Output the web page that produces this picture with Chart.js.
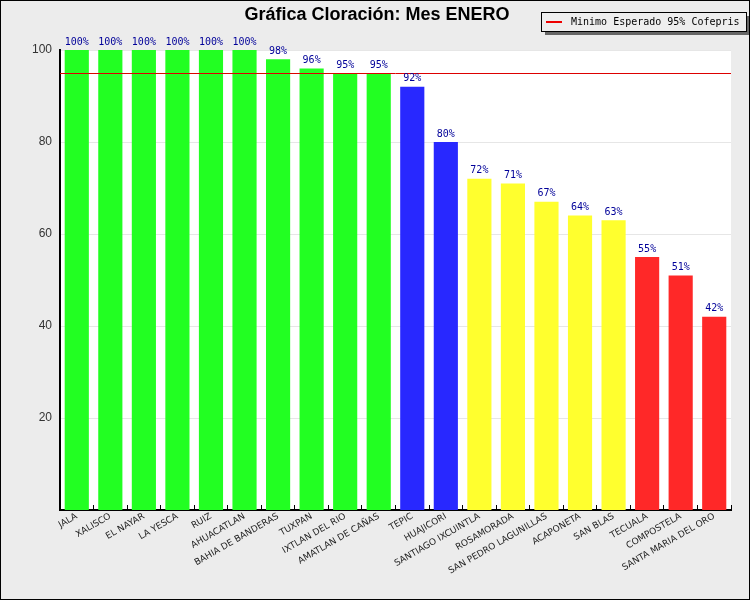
<!DOCTYPE html>
<html>
<head>
<meta charset="utf-8">
<script src="https://cdn.jsdelivr.net/npm/chart.js@4/dist/chart.umd.min.js"></script>
<style>
  body { margin: 0; background: #ececec; }
  canvas { display: block; }
</style>
</head>
<body>
<canvas id="grafica" width="750" height="600"></canvas>
<script>
const municipios = ['JALA', 'XALISCO', 'EL NAYAR', 'LA YESCA', 'RUIZ', 'AHUACATLAN', 'BAHIA DE BANDERAS',
  'TUXPAN', 'IXTLAN DEL RIO', 'AMATLAN DE CAÑAS', 'TEPIC', 'HUAJICORI', 'SANTIAGO IXCUINTLA', 'ROSAMORADA',
  'SAN PEDRO LAGUNILLAS', 'ACAPONETA', 'SAN BLAS', 'TECUALA', 'COMPOSTELA', 'SANTA MARIA DEL ORO'];
const cloracion = [100, 100, 100, 100, 100, 100, 98, 96, 95, 95, 92, 80, 72, 71, 67, 64, 63, 55, 51, 42];
const yTicks = [20, 40, 60, 80, 100];
const minimoEsperado = 95;
const tituloGrafica = 'Gráfica Cloración: Mes ENERO';
const leyenda = 'Minimo Esperado 95% Cofepris';

// color segun el rango de cloracion
const colorBarra = v => v >= 95 ? '#22ff22' : v >= 80 ? '#2828ff' : v >= 60 ? '#ffff2e' : '#ff2828';

const extras = {
  id: 'extras',
  beforeDraw(chart) {
    const { ctx, chartArea: a } = chart;
    ctx.save();
    ctx.fillStyle = '#ececec';
    ctx.fillRect(0, 0, chart.width, chart.height);
    ctx.fillStyle = '#ffffff';
    ctx.fillRect(a.left, a.top, a.right - a.left, a.bottom - a.top);
    ctx.restore();
  },
  afterDatasetsDraw(chart) {
    const { ctx, chartArea: a, scales } = chart;
    ctx.save();
    // linea del minimo esperado
    const y95 = Math.round(scales.y.getPixelForValue(minimoEsperado)) + 0.5;
    ctx.strokeStyle = '#dd0000';
    ctx.lineWidth = 1;
    ctx.beginPath();
    ctx.moveTo(a.left, y95);
    ctx.lineTo(a.right, y95);
    ctx.stroke();

    // etiquetas de valor
    ctx.font = '10px "DejaVu Sans Mono", monospace';
    ctx.fillStyle = '#000099';
    ctx.textAlign = 'center';
    ctx.textBaseline = 'bottom';
    chart.getDatasetMeta(0).data.forEach((bar, i) => {
      ctx.fillText(cloracion[i] + '%', bar.x, bar.y - 3);
    });

    // titulo
    ctx.font = 'bold 18px "Liberation Sans", Arial, sans-serif';
    ctx.fillStyle = '#000';
    ctx.textBaseline = 'middle';
    ctx.fillText(tituloGrafica, 377, 15);

    // leyenda
    const lx = 541, ly = 12, lw = 205, lh = 19;
    ctx.fillStyle = '#666';
    ctx.fillRect(lx + 4, ly + 4, lw, lh);
    ctx.fillStyle = '#eeeeee';
    ctx.fillRect(lx, ly, lw, lh);
    ctx.strokeStyle = '#000';
    ctx.strokeRect(lx + 0.5, ly + 0.5, lw, lh);
    ctx.strokeStyle = '#ee0000';
    ctx.lineWidth = 2;
    ctx.beginPath();
    ctx.moveTo(lx + 5, ly + 10);
    ctx.lineTo(lx + 21, ly + 10);
    ctx.stroke();
    ctx.font = '10px "DejaVu Sans Mono", monospace';
    ctx.fillStyle = '#000';
    ctx.textAlign = 'left';
    ctx.fillText(leyenda, lx + 30, ly + 10);

    // marco exterior
    ctx.strokeStyle = '#000';
    ctx.lineWidth = 1;
    ctx.strokeRect(0.5, 0.5, chart.width - 1, chart.height - 1);
    ctx.restore();
  }
};

new Chart(document.getElementById('grafica'), {
  type: 'bar',
  data: {
    labels: municipios,
    datasets: [{
      data: cloracion,
      backgroundColor: cloracion.map(colorBarra),
      barPercentage: 0.72,
      categoryPercentage: 1
    }]
  },
  options: {
    responsive: false,
    animation: false,
    devicePixelRatio: 1,
    layout: { padding: { top: 50, right: 19, left: 0, bottom: 0 } },
    plugins: { legend: { display: false }, tooltip: { enabled: false } },
    scales: {
      x: {
        afterFit: s => { s.height = 90; },
        grid: { display: true, drawOnChartArea: false, offset: true, color: '#000', tickLength: -5 },
        border: { color: '#000', width: 2 },
        ticks: {
          autoSkip: false, minRotation: 30, maxRotation: 30,
          font: { family: '"DejaVu Sans", sans-serif', size: 9 }, color: '#222', padding: 6
        }
      },
      y: {
        min: 0, max: 100,
        afterFit: s => { s.width = 60; },
        afterBuildTicks: s => { s.ticks = yTicks.map(v => ({ value: v })); },
        grid: { color: '#e6e6e6', tickLength: 0 },
        border: { color: '#000', width: 2 },
        ticks: { font: { family: '"Liberation Sans", Arial, sans-serif', size: 12 }, color: '#333', padding: 8 }
      }
    }
  },
  plugins: [extras]
});
</script>
</body>
</html>
